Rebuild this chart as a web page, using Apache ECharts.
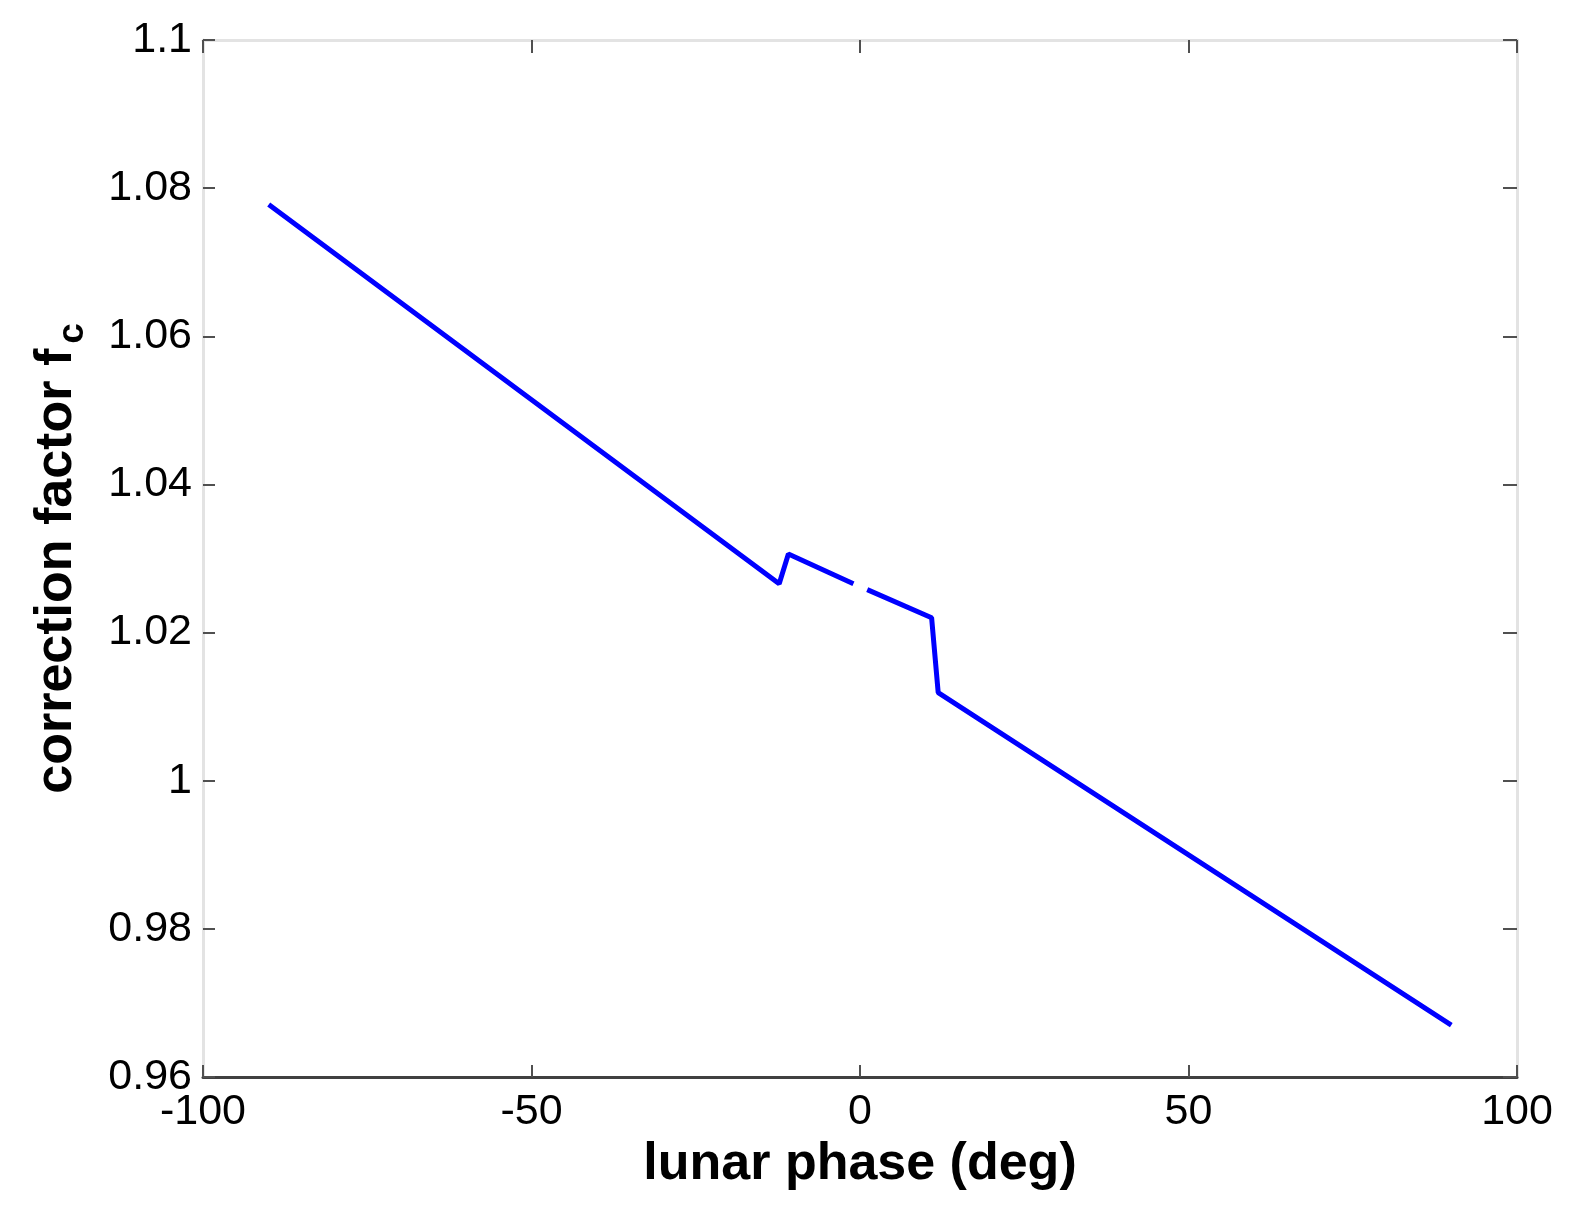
<!DOCTYPE html>
<html>
<head>
<meta charset="utf-8">
<script src="https://cdn.jsdelivr.net/npm/echarts@6/dist/echarts.min.js"></script>
<style>
html,body{margin:0;padding:0;background:#fff;}
#chart{width:1570px;height:1210px;}
</style>
</head>
<body>
<div id="chart"></div>
<script>
// lunar phase (deg) -- null marks the gap in the curve
var phase = [-90, -12.3, -10.9, -1.0, 0, 1.1, 10.9, 11.9, 90];
// correction factor f_c
var fc = [1.0778, 1.0266, 1.0306, 1.0266, null, 1.0258, 1.0220, 1.0119, 0.9670];
var xTicks = [-100, -50, 0, 50, 100];
var yTicks = [0.96, 0.98, 1, 1.02, 1.04, 1.06, 1.08, 1.1];

var data = phase.map(function (p, i) { return [p, fc[i]]; });

var chart = echarts.init(document.getElementById('chart'), null, {renderer: 'canvas'});
var font = 'Liberation Sans, Arial, sans-serif';
var tickColor = '#505050';
var frameColor = '#e3e3e3';

chart.setOption({
  animation: false,
  backgroundColor: '#ffffff',
  grid: {left: 203, right: 53, top: 40, bottom: 133, containLabel: false},
  xAxis: [{
    type: 'value', position: 'bottom',
    min: xTicks[0], max: xTicks[xTicks.length - 1], interval: 50,
    name: 'lunar phase (deg)', nameLocation: 'middle', nameGap: 58,
    nameTextStyle: {fontFamily: font, fontSize: 52, fontWeight: 'bold', color: '#000'},
    axisLine: {show: true, onZero: false, lineStyle: {color: '#404040', width: 3}},
    axisTick: {show: true, inside: true, length: 12, lineStyle: {color: tickColor, width: 2}},
    axisLabel: {fontFamily: font, fontSize: 43, color: '#000', margin: 14,
      formatter: function (v) { return String(v); }},
    splitLine: {show: false}
  }, {
    type: 'value', position: 'top',
    min: xTicks[0], max: xTicks[xTicks.length - 1], interval: 50,
    axisLine: {show: true, onZero: false, lineStyle: {color: frameColor, width: 3}},
    axisTick: {show: true, inside: true, length: 13, lineStyle: {color: tickColor, width: 2}},
    axisLabel: {show: false},
    splitLine: {show: false}
  }],
  yAxis: [{
    type: 'value', position: 'left',
    min: yTicks[0], max: yTicks[yTicks.length - 1], interval: 0.02,
    name: '{a|correction factor f}{b|c}', nameLocation: 'middle', nameGap: 112,
    nameRotate: 90,
    nameTextStyle: {fontFamily: font, fontSize: 52, fontWeight: 'bold', color: '#000',
      rich: {
        a: {fontFamily: font, fontSize: 52, fontWeight: 'bold', color: '#000'},
        b: {fontFamily: font, fontSize: 37, fontWeight: 'bold', color: '#000', padding: [32, 0, 0, 5]}
      }},
    axisLine: {show: true, onZero: false, lineStyle: {color: frameColor, width: 3}},
    axisTick: {show: true, inside: true, length: 12, lineStyle: {color: tickColor, width: 2}},
    axisLabel: {fontFamily: font, fontSize: 43, color: '#000', margin: 11,
      formatter: function (v) { return String(parseFloat(v.toFixed(2))); }},
    splitLine: {show: false}
  }, {
    type: 'value', position: 'right',
    min: yTicks[0], max: yTicks[yTicks.length - 1], interval: 0.02,
    axisLine: {show: true, onZero: false, lineStyle: {color: frameColor, width: 3}},
    axisTick: {show: true, inside: true, length: 14, lineStyle: {color: tickColor, width: 2}},
    axisLabel: {show: false},
    splitLine: {show: false}
  }],
  series: [{
    type: 'line',
    xAxisIndex: 0, yAxisIndex: 0,
    data: data,
    connectNulls: false,
    showSymbol: false,
    symbol: 'none',
    lineStyle: {color: '#0000ff', width: 5},
    z: 3
  }]
});
</script>
</body>
</html>
